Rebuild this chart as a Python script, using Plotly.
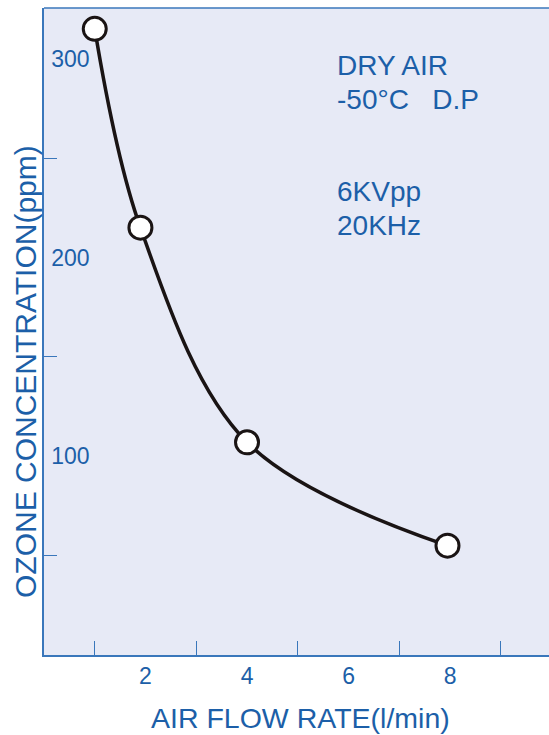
import plotly.graph_objects as go

# Data
flow_rate = [1.0, 1.9, 4.0, 7.95]          # l/min
ozone_ppm = [315, 215, 107, 55]            # ppm

x_label_vals = [2, 4, 6, 8]
x_tick_vals = [1, 3, 5, 7, 9]
y_label_vals = [100, 200, 300]
y_tick_vals = [50, 150, 250]

notes = ["DRY AIR", "-50°C   D.P", "6KVpp", "20KHz"]

BLUE_TXT = "#1c5fa8"
BLUE_AX = "#3a77bb"
BG = "#e7eaf6"
FONT = "Liberation Sans, Arial, sans-serif"

fig = go.Figure()
fig.add_trace(go.Scatter(
    x=flow_rate, y=ozone_ppm, mode="lines+markers",
    line=dict(color="#1a1414", width=3.5, shape="spline", smoothing=1.0),
    marker=dict(size=23, color="white", line=dict(color="#1a1414", width=3)),
    hoverinfo="skip", showlegend=False,
))

fig.update_layout(
    width=549, height=735,
    margin=dict(l=44, r=0, t=8, b=80, autoexpand=False),
    paper_bgcolor="white", plot_bgcolor=BG,
    font=dict(family=FONT, color=BLUE_TXT),
    xaxis=dict(
        range=[0, 9.95], showgrid=False, zeroline=False, automargin=False,
        tickvals=x_label_vals, ticktext=[str(v) for v in x_label_vals],
        ticks="", ticklen=0, tickfont=dict(size=23, color=BLUE_TXT),
        showline=True, linecolor=BLUE_AX, linewidth=1.5, mirror=False,
        minor=dict(tickvals=x_tick_vals, ticks="inside", ticklen=14,
                   tickcolor=BLUE_AX, tickwidth=1, showgrid=False),
    ),
    yaxis=dict(
        range=[0, 325.5], showgrid=False, zeroline=False, automargin=False,
        tickvals=y_label_vals, ticktext=[str(v) for v in y_label_vals],
        ticks="", ticklen=0, ticklabelposition="inside", ticklabelstandoff=9,
        tickfont=dict(size=23, color=BLUE_TXT),
        showline=True, linecolor=BLUE_AX, linewidth=1.5, mirror=False,
        minor=dict(tickvals=y_tick_vals, ticks="inside", ticklen=13,
                   tickcolor=BLUE_AX, tickwidth=1, showgrid=False),
    ),
)

# top border line
fig.add_shape(type="line", xref="paper", yref="paper", x0=0, x1=1, y0=1, y1=1,
              line=dict(color=BLUE_AX, width=1.5))

# axis titles
fig.add_annotation(text="AIR FLOW RATE(l/min)", xref="paper", yref="paper",
                   x=(300 - 44) / 505, y=0, yshift=-63, showarrow=False,
                   font=dict(size=28.5, color=BLUE_TXT), xanchor="center", yanchor="middle")
fig.add_annotation(text="OZONE CONCENTRATION(ppm)", xref="paper", yref="paper",
                   x=0, xshift=-19, y=(655 - 372) / 647, textangle=-90, showarrow=False,
                   font=dict(size=30, color=BLUE_TXT), xanchor="center", yanchor="middle")

# condition notes
note_y = [65, 100, 191, 225]
for t, yy in zip(notes, note_y):
    fig.add_annotation(text=t, xref="paper", yref="paper",
                       x=(335 - 44) / 505, y=(655 - yy) / 647, showarrow=False,
                       xanchor="left", yanchor="middle",
                       font=dict(size=28, color=BLUE_TXT))

fig.write_html("out.html", config={"displayModeBar": False},
               post_script="document.body.style.margin='0';document.body.style.overflow='hidden';")
